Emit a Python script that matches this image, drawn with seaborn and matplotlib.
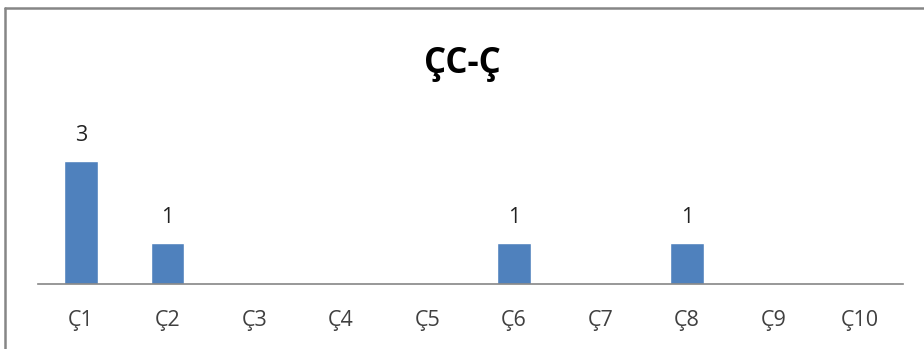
import matplotlib
matplotlib.use('Agg')
import matplotlib.pyplot as plt
import matplotlib.lines as mlines
import seaborn as sns
import pandas as pd

# ── data ─────────────────────────────────────────────────────────────────────
categories = ['Ç1', 'Ç2', 'Ç3', 'Ç4', 'Ç5', 'Ç6', 'Ç7', 'Ç8', 'Ç9', 'Ç10']
counts     = [3, 1, 0, 0, 0, 1, 0, 1, 0, 0]
title      = 'ÇC-Ç'

BAR_COLOR  = '#4F81BD'
AXIS_GRAY  = '#868686'
TEXT_GRAY  = '#404040'

sns.set_style('white')
plt.rcParams['font.family'] = ['Open Sans', 'DejaVu Sans']

df = pd.DataFrame({'cat': categories, 'n': counts})

fig = plt.figure(figsize=(9.24, 3.49), dpi=100)
ax = fig.add_axes([0.0408, 0.186, 0.937, 0.47])

sns.barplot(data=df, x='cat', y='n', color=BAR_COLOR, width=0.39,
            saturation=1, ax=ax)

labels = [str(v) if v else '' for v in counts]
ax.bar_label(ax.containers[0], labels=labels, padding=11,
             fontsize=15.5, color='#222222')

ax.set_ylim(0, 4)
ax.set_xlim(-0.5, len(categories) - 0.5)
ax.set_xlabel('')
ax.set_ylabel('')
ax.set_yticks([])
ax.tick_params(axis='x', length=0, pad=19, labelsize=15.5, colors=TEXT_GRAY)
ax.spines[['top', 'right', 'left']].set_visible(False)
ax.spines['bottom'].set_color(AXIS_GRAY)
ax.spines['bottom'].set_linewidth(1.2)

fig.text(0.5, 1 - 64 / 349, title, ha='center', va='center',
         fontsize=25, fontweight='bold', color='black')

# chart frame (top and left edges visible in the crop)
fig.add_artist(mlines.Line2D([5 / 924, 1], [1 - 8 / 349] * 2,
                             color=AXIS_GRAY, lw=1.8))
fig.add_artist(mlines.Line2D([5 / 924] * 2, [0, 1 - 8 / 349],
                             color=AXIS_GRAY, lw=1.8))

fig.savefig('out.png', dpi=100)
